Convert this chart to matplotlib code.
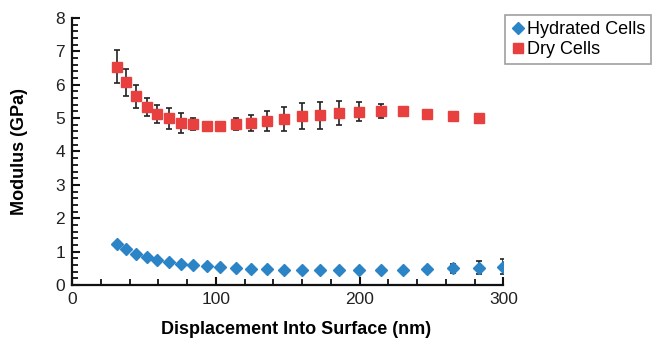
import matplotlib
matplotlib.use("Agg")
import matplotlib.pyplot as plt
from matplotlib.ticker import MultipleLocator

plt.rcParams['font.family'] = ['Liberation Sans', 'DejaVu Sans']

# Displacement (nm)
x_hyd = [31.1, 37.5, 44.7, 51.9, 59.3, 67.2, 75.8, 84.4, 93.9, 103.1, 113.8, 124.5,
         135.6, 147.6, 160.2, 172.7, 185.9, 199.4, 214.7, 230.4, 247.1, 264.7, 283.2, 299.7]
y_hyd = [1.24, 1.07, 0.92, 0.83, 0.76, 0.69, 0.64, 0.60, 0.56, 0.53, 0.50, 0.49,
         0.47, 0.46, 0.45, 0.45, 0.44, 0.44, 0.44, 0.44, 0.47, 0.50, 0.52, 0.55]
e_hyd = [0.03, 0.02, 0.02, 0.02, 0.02, 0.02, 0.02, 0.02, 0.02, 0.02, 0.02, 0.02,
         0.02, 0.02, 0.02, 0.03, 0.03, 0.03, 0.04, 0.04, 0.08, 0.14, 0.20, 0.23]

x_dry = [31.1, 37.5, 44.7, 51.9, 59.3, 67.2, 75.8, 84.4, 93.9, 103.1, 113.8, 124.5,
         135.6, 147.6, 160.2, 172.7, 185.9, 199.4, 214.7, 230.4, 247.1, 264.7, 283.2]
y_dry = [6.54, 6.07, 5.65, 5.34, 5.11, 4.99, 4.85, 4.82, 4.77, 4.77, 4.82, 4.85,
         4.91, 4.97, 5.06, 5.08, 5.15, 5.19, 5.21, 5.22, 5.12, 5.06, 5.00]
e_dry = [0.49, 0.40, 0.34, 0.27, 0.27, 0.31, 0.31, 0.19, 0.10, 0.10, 0.17, 0.23,
         0.29, 0.37, 0.39, 0.40, 0.36, 0.28, 0.21, 0.10, 0.05, 0.05, 0.05]

labels = ["Hydrated Cells", "Dry Cells"]
colors = ["#2b84c6", "#e8403e"]

fig = plt.figure(figsize=(6.68, 3.39), dpi=100)
ax = fig.add_axes([0.1078, 0.1593, 0.7537 - 0.1078, 0.9469 - 0.1593])

ax.errorbar(x_hyd, y_hyd, yerr=e_hyd, fmt='D', color=colors[0], markersize=6,
            ecolor='#222222', elinewidth=1.2, capsize=2.5, capthick=1.2,
            label=labels[0], zorder=3)
ax.errorbar(x_dry, y_dry, yerr=e_dry, fmt='s', color=colors[1], markersize=7.5,
            ecolor='#222222', elinewidth=1.2, capsize=2.5, capthick=1.2,
            label=labels[1], zorder=3)

ax.set_xlim(0, 300)
ax.set_ylim(0, 8)
ax.xaxis.set_major_locator(MultipleLocator(100))
ax.xaxis.set_minor_locator(MultipleLocator(20))
ax.yaxis.set_major_locator(MultipleLocator(1))
ax.yaxis.set_minor_locator(MultipleLocator(0.2))

for s in ['top', 'right']:
    ax.spines[s].set_visible(False)
for s in ['left', 'bottom']:
    ax.spines[s].set_linewidth(1.6)
    ax.spines[s].set_color('#111111')

ax.tick_params(which='both', direction='in', color='#111111', labelsize=12.5,
               labelcolor='#222222')
ax.tick_params(which='major', length=6, width=1.5, pad=5)
ax.tick_params(which='minor', length=4, width=1.3)

ax.set_xlabel("Displacement Into Surface (nm)", fontsize=13, fontweight='bold', labelpad=9)
ax.set_ylabel("Modulus (GPa)", fontsize=13, fontweight='bold', labelpad=20)
ax.xaxis.set_label_coords(0.519, -0.135)

handles, labs = ax.get_legend_handles_labels()
handles = [h[0] for h in handles]
leg = fig.legend(handles, labs, loc='upper left', bbox_to_anchor=(0.756, 0.956),
                 bbox_transform=fig.transFigure, fontsize=13, frameon=True,
                 fancybox=False, edgecolor='#888888', handlelength=0.7,
                 handletextpad=0.15, borderpad=0.35, labelspacing=0.15,
                 borderaxespad=0)
leg.get_frame().set_linewidth(1.2)

fig.savefig("out.png", dpi=100)
